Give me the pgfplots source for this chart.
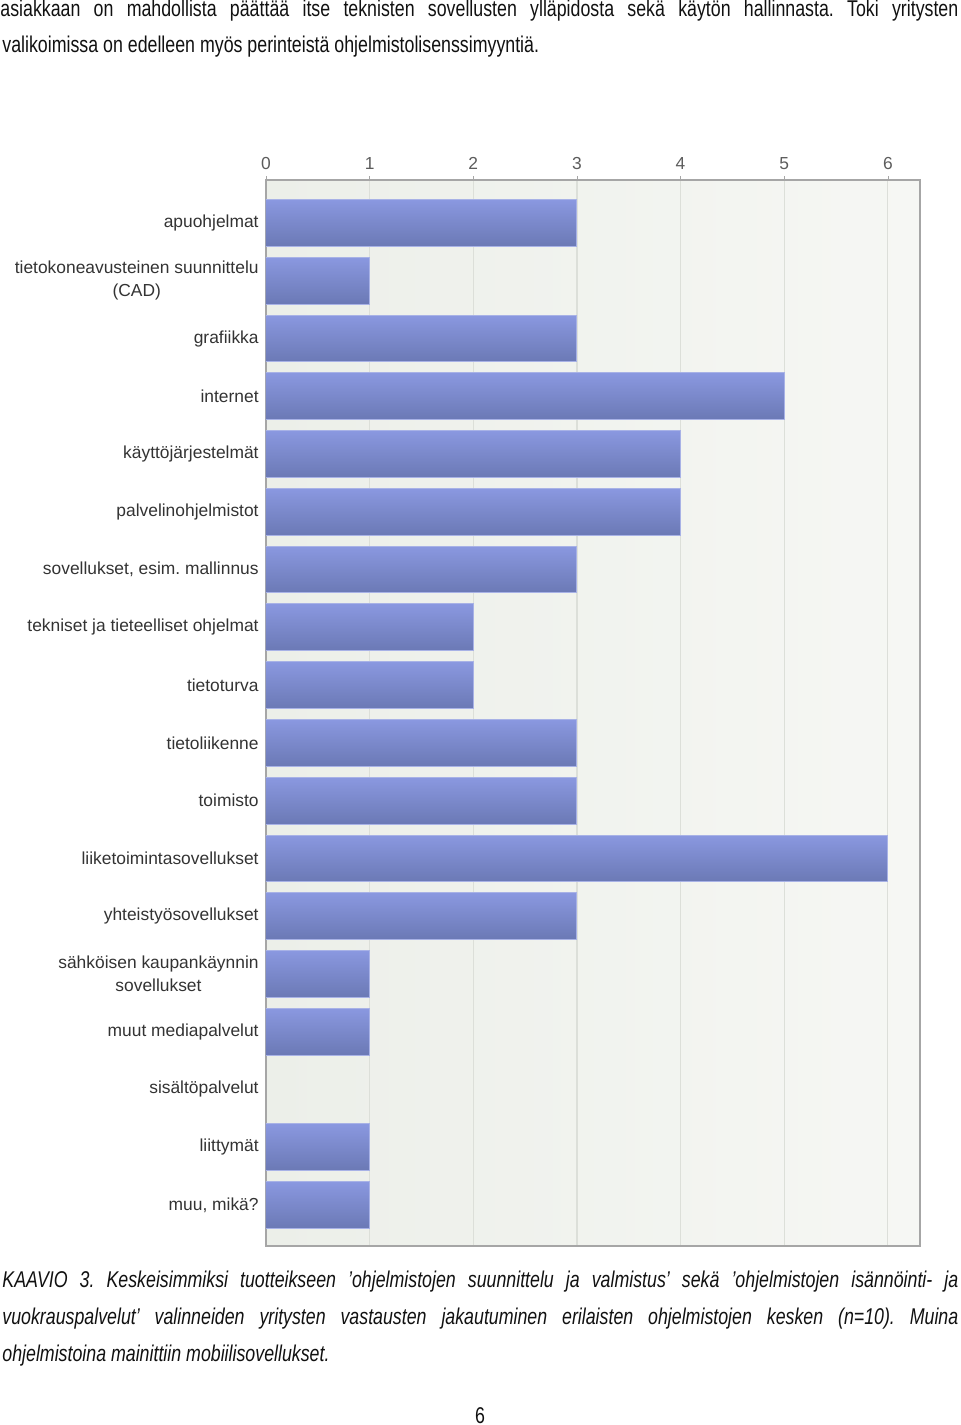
\documentclass[border=0pt]{standalone}
\usepackage{fontspec}
\setmainfont{Liberation Sans}
\newfontfamily\bodyfont{Liberation Sans}[FakeStretch=0.78]
\newfontfamily\chartfont{Liberation Sans}
\usepackage{pgfplots}
\pgfplotsset{compat=1.18}
\definecolor{barTop}{HTML}{8A98E0}
\definecolor{barBot}{HTML}{6B79B5}
\definecolor{barEdge}{HTML}{A8B2E6}
\definecolor{bgLeft}{HTML}{ECEFE9}
\definecolor{bgRight}{HTML}{F6F7F4}
\definecolor{gridc}{HTML}{DCDFD9}
\definecolor{axisc}{HTML}{A6A6A6}
\definecolor{labc}{HTML}{333333}
\definecolor{textc}{HTML}{111111}
\pgfplotsset{onebar/.style={xbar, bar width=0.81, bar shift=0pt, draw=barEdge, line width=0.5pt, top color=barTop, bottom color=barBot, forget plot}}
\begin{document}
\frenchspacing
\begin{tikzpicture}
\path[use as bounding box] (0,0) rectangle (480pt,712.5pt);
% body text
\node[anchor=base west, inner sep=0, text=textc] at (0pt,704pt) {\bodyfont\fontsize{11.4}{13}\selectfont\makebox[479pt][s]{asiakkaan on mahdollista päättää itse teknisten sovellusten ylläpidosta sekä käytön hallinnasta. Toki yritysten}};
\node[anchor=base west, inner sep=0, text=textc] at (1pt,686pt) {\bodyfont\fontsize{11.4}{13}\selectfont valikoimissa on edelleen myös perinteistä ohjelmistolisenssimyyntiä.};
\begin{axis}[
  at={(133pt,89.5pt)}, anchor=south west,
  scale only axis, width=327pt, height=533pt,
  xmin=0, xmax=6.31,
  ymin=-0.744, ymax=17.71,
  y dir=reverse,
  xtick={0,1,2,3,4,5,6},
  xticklabel pos=upper, xtick pos=upper,
  tick align=outside,
  major tick length=2pt,
  xtick style={draw=axisc},
  ytick={0,...,17},
  ytick style={draw=none},
  /pgf/number format/assume math mode=true,
  yticklabels={apuohjelmat,{tietokoneavusteinen suunnittelu\\(CAD)},grafiikka,internet,käyttöjärjestelmät,palvelinohjelmistot,{sovellukset, esim. mallinnus},tekniset ja tieteelliset ohjelmat,tietoturva,tietoliikenne,toimisto,liiketoimintasovellukset,yhteistyösovellukset,{sähköisen kaupankäynnin\\sovellukset},muut mediapalvelut,sisältöpalvelut,liittymät,{muu, mikä?}},
  yticklabel style={align=center, font=\chartfont\fontsize{8.7}{11.5}\selectfont, text=labc, inner sep=0pt, xshift=-1.5pt},
  xticklabel style={font=\chartfont\fontsize{8.7}{10}\selectfont, text=labc!80, inner sep=0pt, yshift=3pt},
  xmajorgrids, grid style={draw=gridc, line width=0.6pt},
  axis line style={draw=axisc, line width=0.7pt},
  axis background/.style={left color=bgLeft, right color=bgRight},
]
\addplot[onebar] coordinates {(3,0)};
\addplot[onebar] coordinates {(1,1)};
\addplot[onebar] coordinates {(3,2)};
\addplot[onebar] coordinates {(5,3)};
\addplot[onebar] coordinates {(4,4)};
\addplot[onebar] coordinates {(4,5)};
\addplot[onebar] coordinates {(3,6)};
\addplot[onebar] coordinates {(2,7)};
\addplot[onebar] coordinates {(2,8)};
\addplot[onebar] coordinates {(3,9)};
\addplot[onebar] coordinates {(3,10)};
\addplot[onebar] coordinates {(6,11)};
\addplot[onebar] coordinates {(3,12)};
\addplot[onebar] coordinates {(1,13)};
\addplot[onebar] coordinates {(1,14)};
\addplot[onebar, draw=none] coordinates {(0,15)};
\addplot[onebar] coordinates {(1,16)};
\addplot[onebar] coordinates {(1,17)};
\end{axis}
% caption
\node[anchor=base west, inner sep=0, text=textc] at (1pt,68.5pt) {\bodyfont\itshape\fontsize{11.4}{13}\selectfont\makebox[478pt][s]{KAAVIO 3. Keskeisimmiksi tuotteikseen ’ohjelmistojen suunnittelu ja valmistus’ sekä ’ohjelmistojen isännöinti- ja}};
\node[anchor=base west, inner sep=0, text=textc] at (1pt,50pt) {\bodyfont\itshape\fontsize{11.4}{13}\selectfont\makebox[478pt][s]{vuokrauspalvelut’ valinneiden yritysten vastausten jakautuminen erilaisten ohjelmistojen kesken (n=10). Muina}};
\node[anchor=base west, inner sep=0, text=textc] at (1pt,31.5pt) {\bodyfont\itshape\fontsize{11.4}{13}\selectfont ohjelmistoina mainittiin mobiilisovellukset.};
\node[anchor=base, inner sep=0, text=textc] at (240pt,1pt) {\bodyfont\fontsize{11.4}{13}\selectfont 6};
\end{tikzpicture}
\end{document}
